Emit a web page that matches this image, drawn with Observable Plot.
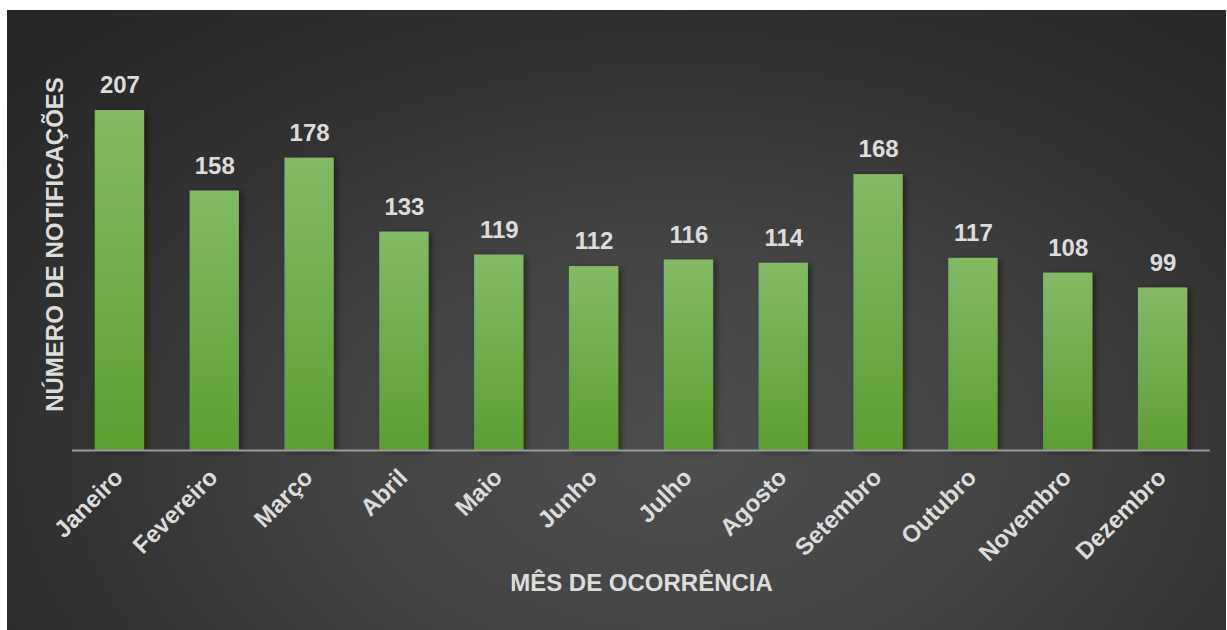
<!DOCTYPE html>
<html><head><meta charset="utf-8">
<script src="https://cdn.jsdelivr.net/npm/d3@7"></script>
<script src="https://cdn.jsdelivr.net/npm/@observablehq/plot@0.6"></script>
<style>
html,body{margin:0;padding:0;background:#fff;width:1227px;height:630px;overflow:hidden}
#chart{position:absolute;left:7px;top:10px;width:1219px;height:620px;
background:radial-gradient(ellipse 75% 95% at 55% 72%, #4e4e4e 0%, #444444 35%, #333333 65%, #262626 100%);}
#chart svg{display:block;font-family:"Liberation Sans",Arial,sans-serif}
</style></head><body><div id="chart"></div>
<script>
const months = ["Janeiro","Fevereiro","Março","Abril","Maio","Junho","Julho","Agosto","Setembro","Outubro","Novembro","Dezembro"];
const values = [207,158,178,133,119,112,116,114,168,117,108,99];
const xTitle = "MÊS DE OCORRÊNCIA";
const yTitle = "NÚMERO DE NOTIFICAÇÕES";

const data = months.map((m,i)=>({month:m, value:values[i]}));
const txt = "#dcdcdc";

const svg = Plot.plot({
  width:1219, height:620,
  marginLeft:65, marginRight:16, marginTop:100, marginBottom:180,
  style:{background:"transparent", fontFamily:"'Liberation Sans', Arial, sans-serif", overflow:"visible"},
  x:{domain:months, paddingInner:0.48, paddingOuter:0.24, round:false, label:null},
  y:{domain:[0,207], axis:null},
  marks:[
    Plot.barY(data, {x:"month", y:"value", fill:"url(#barGrad)"}),
    Plot.ruleY([0], {stroke:"#999999", strokeWidth:2}),
    Plot.text(data, {x:"month", y:"value", text:d=>String(d.value), dy:-25, fontSize:24, fontWeight:"bold", fill:txt}),
    Plot.axisX({tickRotate:-45, tickSize:0, tickPadding:14, dy:9, dx:-1, fontSize:24, fontWeight:"bold", fill:txt, label:null}),
    Plot.text([xTitle], {frameAnchor:"bottom", dy:140, fontSize:24, fontWeight:"bold", fill:txt}),
    Plot.text([yTitle], {frameAnchor:"left", textAnchor:"middle", rotate:-90, dx:-17, dy:-36, fontSize:24, fontWeight:"bold", fill:txt})
  ]
});

d3.select(svg).insert("defs", ":first-child").html(
  `<linearGradient id="barGrad" x1="0" y1="0" x2="0" y2="1">
     <stop offset="0" stop-color="#83ba64"/>
     <stop offset="1" stop-color="#5c9f30"/>
   </linearGradient>
   <filter id="barShadow" x="-30%" y="-10%" width="160%" height="120%">
     <feDropShadow dx="3" dy="2" stdDeviation="3" flood-color="#000" flood-opacity="0.45"/>
   </filter>`);
d3.select(svg).selectAll("g[aria-label='bar'] rect").attr("filter","url(#barShadow)");

document.getElementById("chart").appendChild(svg);
</script>
</body></html>
